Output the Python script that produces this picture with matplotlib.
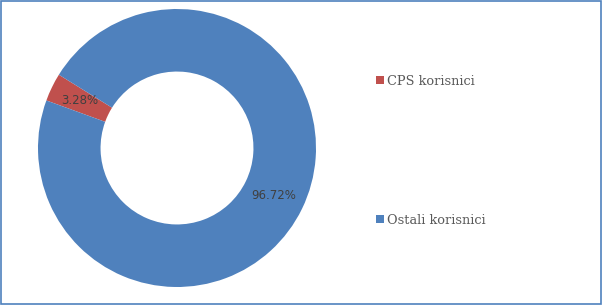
import matplotlib.pyplot as plt
from matplotlib.patches import Rectangle

labels = ["CPS korisnici", "Ostali korisnici"]
shares = [3.28, 96.72]
colors = ["#C0504D", "#4F81BD"]

fig = plt.figure(figsize=(6.03, 3.05), dpi=100)
ax = fig.add_axes([38 / 603, 18 / 305, 278 / 603, 278 / 305])

wedges, texts, autotexts = ax.pie(
    shares,
    colors=colors,
    startangle=160,
    counterclock=False,
    radius=1,
    autopct="%.2f%%",
    pctdistance=0.775,
    wedgeprops=dict(width=0.45, linewidth=0),
    textprops=dict(color="#404040", fontsize=8.5, family="DejaVu Sans"),
)
ax.set_xlim(-1, 1)
ax.set_ylim(-1, 1)
ax.set_aspect("equal")
ax.axis("off")

fig.legend(
    wedges, labels,
    loc="upper left",
    bbox_to_anchor=(364 / 603, 1 - 63 / 305),
    frameon=False,
    handlelength=0.65,
    handleheight=0.65,
    handletextpad=0.25,
    labelspacing=9.75,
    prop=dict(family="DejaVu Serif", size=9.3),
    labelcolor="#595959",
)

# thin frame round the chart area
fig.patches.append(Rectangle((0.002, 0.004), 0.995, 0.992, transform=fig.transFigure,
                             fill=False, edgecolor="#4F81BD", linewidth=1.2))

fig.savefig("out.png", dpi=100)
